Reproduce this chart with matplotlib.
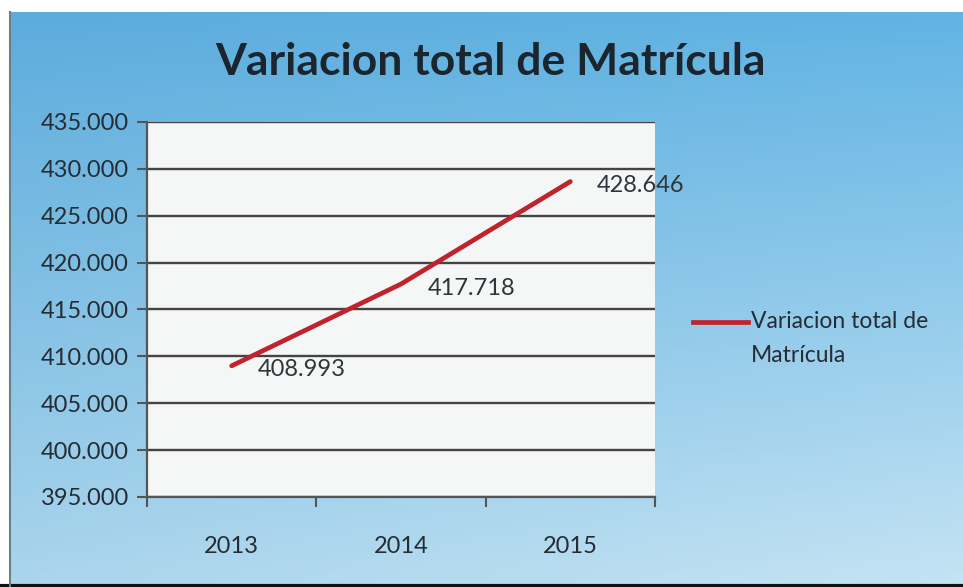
import numpy as np
import matplotlib
matplotlib.use('Agg')
import matplotlib.pyplot as plt
from matplotlib.lines import Line2D

years = ['2013', '2014', '2015']
matricula = [408.993, 417.718, 428.646]
value_labels = ['408.993', '417.718', '428.646']
y_ticks = [395, 400, 405, 410, 415, 420, 425, 430, 435]
y_tick_labels = ['395.000', '400.000', '405.000', '410.000', '415.000',
                 '420.000', '425.000', '430.000', '435.000']

plt.rcParams['font.family'] = ['Lato', 'DejaVu Sans']
txt = '#252c33'
W, H = 963, 587

fig = plt.figure(figsize=(W / 100, H / 100), dpi=100)
fig.patch.set_facecolor('white')

# blue gradient background of the chart area
bg = fig.add_axes([10 / W, 3 / H, 1 - 10 / W, (H - 15) / H])
bg.set_axis_off()
tl = np.array([92, 172, 220]) / 255
tr = np.array([98, 180, 228]) / 255
bl = np.array([170, 213, 236]) / 255
br = np.array([196, 227, 243]) / 255
u = np.linspace(0, 1, 200)[None, :, None]
v = np.linspace(0, 1, 120)[:, None, None]
grad = (1 - v) * ((1 - u) * tl + u * tr) + v * ((1 - u) * bl + u * br)
bg.imshow(grad, aspect='auto', extent=[0, 1, 0, 1], origin='upper')
bg.set_xlim(0, 1)
bg.set_ylim(0, 1)

# scan frame lines
fig.add_artist(Line2D([0, 1], [1.5 / H, 1.5 / H], color='#111111', lw=3))
fig.add_artist(Line2D([10 / W, 10 / W], [0, (H - 12) / H], color='#6a7f88', lw=1.5))

ax = fig.add_axes([147 / W, 1 - 497 / H, 508 / W, 375 / H])
ax.set_facecolor('#f5f6f6')
x = np.arange(len(years))
ax.plot(x, matricula, color='#c0232c', lw=3.4, solid_capstyle='round', zorder=3)

ax.set_xlim(-0.5, len(years) - 0.5)
ax.set_ylim(395, 435)
ax.set_yticks(y_ticks)
ax.set_yticklabels(y_tick_labels, fontsize=17, color=txt)
ax.set_xticks(x)
ax.set_xticklabels(years, fontsize=17, color=txt)
ax.set_xticks(np.arange(-0.5, len(years)), minor=True)
ax.tick_params(axis='x', which='major', length=0, pad=28)
ax.tick_params(axis='x', which='minor', length=7, width=1.5, color='#555555', direction='out')
ax.tick_params(axis='y', length=7, width=1.5, color='#555555', pad=6)
ax.grid(axis='y', color='#444444', lw=1.7, zorder=1)
for s in ['top', 'right']:
    ax.spines[s].set_visible(False)
for s in ['left', 'bottom']:
    ax.spines[s].set_color('#555555')
    ax.spines[s].set_linewidth(1.6)

for xi, yi, lab in zip(x, matricula, value_labels):
    ax.annotate(lab, (xi, yi), xytext=(19, -3), textcoords='offset points',
                ha='left', va='center', fontsize=17, color='#2e353b',
                annotation_clip=False, zorder=4)

fig.text(490 / W, 1 - 62 / H, 'Variacion total de Matrícula', ha='center', va='center',
         fontsize=32, fontweight='bold', color='#1b252e')

# legend
fig.add_artist(Line2D([693 / W, 748 / W], [1 - 322 / H, 1 - 322 / H], color='#c0232c', lw=3.4))
fig.text(751 / W, 1 - 322 / H, 'Variacion total de', ha='left', va='center', fontsize=16.5, color=txt)
fig.text(751 / W, 1 - 355 / H, 'Matrícula', ha='left', va='center', fontsize=16.5, color=txt)

fig.savefig('out.png', dpi=100)
